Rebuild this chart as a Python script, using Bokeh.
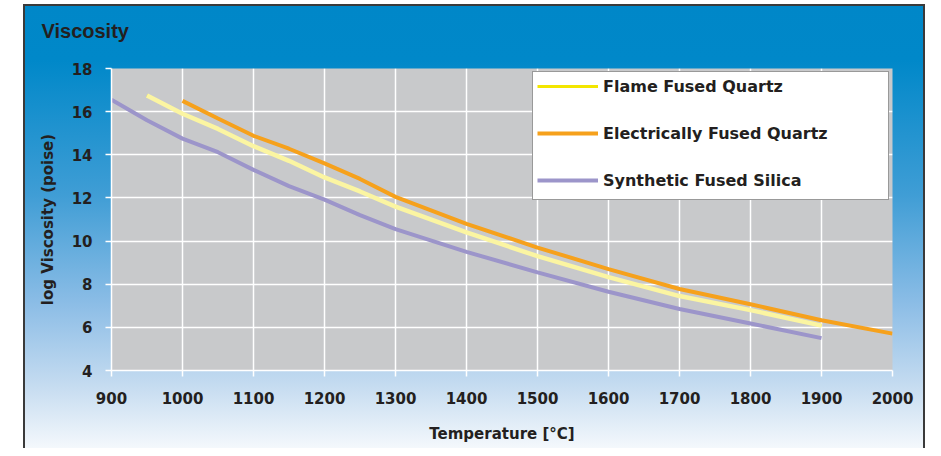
from bokeh.plotting import figure
from bokeh.models import Legend, LegendItem, Title, FixedTicker, Range1d
from bokeh.embed import file_html
from bokeh.resources import INLINE

# ---- data ----
temp_sfs = [900, 950, 1000, 1050, 1100, 1150, 1200, 1250, 1300, 1400, 1500, 1600, 1700, 1800, 1900]
visc_sfs = [16.55, 15.6, 14.75, 14.12, 13.3, 12.55, 11.92, 11.2, 10.55, 9.5, 8.55, 7.65, 6.85, 6.18, 5.5]

temp_ffq = [950, 1000, 1050, 1100, 1150, 1200, 1250, 1300, 1400, 1500, 1600, 1700, 1800, 1900]
visc_ffq = [16.75, 15.9, 15.2, 14.4, 13.72, 12.95, 12.3, 11.6, 10.4, 9.3, 8.33, 7.45, 6.8, 6.08]

temp_efq = [1000, 1050, 1100, 1150, 1200, 1250, 1300, 1400, 1500, 1600, 1700, 1800, 1900, 2000]
visc_efq = [16.5, 15.68, 14.88, 14.28, 13.6, 12.88, 12.05, 10.8, 9.7, 8.7, 7.78, 7.07, 6.33, 5.71]

x_ticks = [900, 1000, 1100, 1200, 1300, 1400, 1500, 1600, 1700, 1800, 1900, 2000]
y_ticks = [4, 6, 8, 10, 12, 14, 16, 18]

chart_title = "Viscosity"
series_names = ["Flame Fused Quartz", "Electrically Fused Quartz", "Synthetic Fused Silica"]

# ---- styles ----
TXT = "#231f20"
FONT = "DejaVu Sans"

p = figure(width=902, height=444, output_backend="svg", toolbar_location=None,
           x_range=Range1d(900, 2000), y_range=Range1d(4, 18),
           min_border_left=88, min_border_right=33, min_border_top=0, min_border_bottom=78,
           background_fill_color="#c8c9cb", border_fill_color=None, outline_line_color=None)
p.margin = (4, 0, 0, 23)
p.styles = {
    "background": "linear-gradient(to bottom, #0087c8 0px, #0088c9 56px, #3f9dd5 190px, #8cbde6 300px, #c4dbf0 380px, #f4f8fc 444px)",
    "box-shadow": "inset 2px 2px 0 #3a3a3a, inset -2px 0 0 #3a3a3a",
}

p.title = Title(text=chart_title, align="left", offset=-70, standoff=31,
                vertical_align="top",
                text_font="Liberation Sans", text_font_size="20px",
                text_font_style="bold", text_color=TXT)
# thin spacer panel between the title and the plot frame
p.add_layout(Title(text=" ", text_font_size="4px", standoff=2), "above")

p.xaxis.ticker = FixedTicker(ticks=x_ticks)
p.yaxis.ticker = FixedTicker(ticks=y_ticks)
p.xaxis.axis_label = "Temperature [°C]"
p.yaxis.axis_label = "log Viscosity (poise)"

for ax in (p.xaxis[0], p.yaxis[0]):
    ax.axis_line_color = "white"
    ax.axis_line_width = 1.5
    ax.major_tick_line_color = "white"
    ax.major_tick_line_width = 1.5
    ax.major_tick_in = 0
    ax.major_tick_out = 6
    ax.minor_tick_line_color = None
    ax.major_label_text_font = FONT
    ax.major_label_text_font_style = "bold"
    ax.major_label_text_font_size = "15px"
    ax.major_label_text_color = TXT
    ax.axis_label_text_font = FONT
    ax.axis_label_text_font_style = "bold"
    ax.axis_label_text_font_size = "15px"
    ax.axis_label_text_color = TXT

p.xaxis.major_label_standoff = 15
p.yaxis.major_label_standoff = 13
p.xaxis.axis_label_standoff = 18
p.yaxis.axis_label_standoff = 12

for g in (p.xgrid, p.ygrid):
    g.grid_line_color = "white"
    g.grid_line_width = 1.5
    g.grid_line_alpha = 1

# ---- lines ----
r_efq = p.line(temp_efq, visc_efq, line_color="#f6a11c", line_width=4)
# brighter yellow used in the key, drawn beneath the pale flame-quartz curve
r_ffq_key = p.line(temp_ffq, visc_ffq, line_color="#f3e600", line_width=3)
r_ffq = p.line(temp_ffq, visc_ffq, line_color="#fbf5a2", line_width=4.5)
r_sfs = p.line(temp_sfs, visc_sfs, line_color="#9c95ca", line_width=4)

legend = Legend(items=[
    LegendItem(label=series_names[0], renderers=[r_ffq_key]),
    LegendItem(label=series_names[1], renderers=[r_efq]),
    LegendItem(label=series_names[2], renderers=[r_sfs]),
], location="top_right")
legend.margin = 3
legend.padding = 4
legend.spacing = 27
legend.glyph_width = 61
legend.glyph_height = 20
legend.label_height = 20
legend.label_standoff = 5
legend.label_width = 281
legend.title = " "
legend.title_location = "below"
legend.title_text_font_size = "2px"
legend.title_standoff = 3
legend.border_line_color = "#333333"
legend.border_line_width = 1.5
legend.background_fill_color = "white"
legend.background_fill_alpha = 1
legend.label_text_font = FONT
legend.label_text_font_style = "bold"
legend.label_text_font_size = "16px"
legend.label_text_color = TXT
p.add_layout(legend)

open("out.html", "w").write(file_html(p, INLINE))
